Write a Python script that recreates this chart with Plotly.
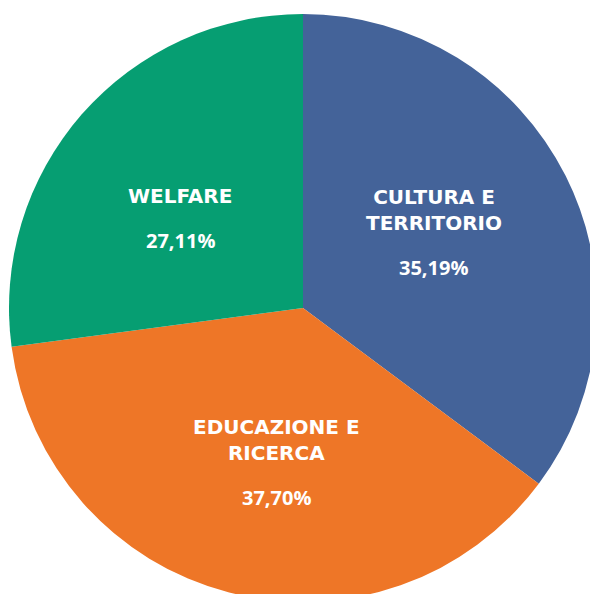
import math
import plotly.graph_objects as go

categories = ["CULTURA E<br>TERRITORIO", "EDUCAZIONE E<br>RICERCA", "WELFARE"]
values = [35.19, 37.70, 27.11]
colors = ["#446399", "#ee7627", "#069e72"]

pct_text = [f"{v:.2f}%".replace(".", ",") for v in values]

W, H = 600, 612
cx, cy, r = 303, 308, 294

fig = go.Figure(go.Pie(
    labels=categories,
    values=values,
    textinfo="none",
    marker=dict(colors=colors, line=dict(width=0)),
    sort=False,
    direction="clockwise",
    rotation=0,
    hole=0,
    showlegend=False,
    hoverinfo="label+text",
    text=pct_text,
    domain=dict(x=[(cx - r) / W, (cx + r) / W], y=[1 - (cy + r) / H, 1 - (cy - r) / H]),
))

# label placement along each slice's mid angle
total = sum(values)
cum = 0.0
for lab, v, pct in zip(categories, values, pct_text):
    mid = (cum + v / 2) / total * 360 - 4.5
    cum += v
    d = 0.52 * r
    ax = cx + d * math.sin(math.radians(mid))
    ay = cy - d * math.cos(math.radians(mid))
    nlines = lab.count("<br>") + 1
    pct_y = ay + (39 if nlines == 2 else 24)
    fig.add_annotation(
        x=ax / W, y=1 - (pct_y - 31) / H, xref="paper", yref="paper",
        text=lab, showarrow=False, xanchor="center", yanchor="bottom",
        font=dict(family="DejaVu Sans", size=20, color="white", weight="bold"),
        align="center",
    )
    fig.add_annotation(
        x=ax / W, y=1 - pct_y / H, xref="paper", yref="paper",
        text=pct, showarrow=False, xanchor="center", yanchor="middle",
        font=dict(family="Open Sans", size=20, color="white", weight="bold"),
    )

fig.update_layout(
    width=W, height=H,
    margin=dict(l=0, r=0, t=0, b=0),
    paper_bgcolor="white",
    plot_bgcolor="white",
)

fig.write_html("out.html", config={"displayModeBar": False},
               post_script="document.body.style.margin='0';document.body.style.overflow='hidden';")
